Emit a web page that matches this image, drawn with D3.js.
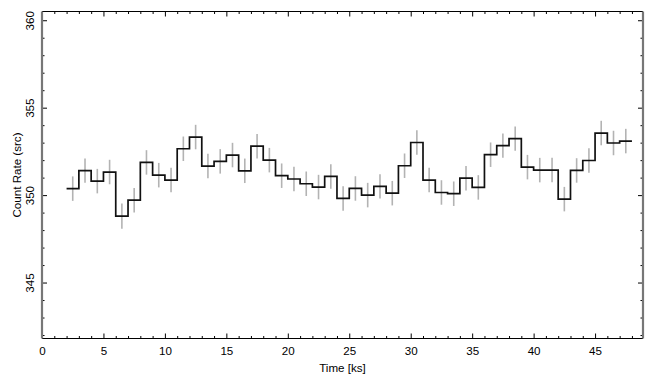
<!DOCTYPE html>
<html><head><meta charset="utf-8">
<script src="https://cdn.jsdelivr.net/npm/d3@7"></script>
<style>body{margin:0;background:#fff}svg{display:block}</style>
</head><body><svg id="c" width="655" height="385"></svg>
<script>
const binStart = [2,3,4,5,6,7,8,9,10,11,12,13,14,15,16,17,18,19,20,21,22,23,24,25,26,27,28,29,30,31,32,33,34,35,36,37,38,39,40,41,42,43,44,45,46,47];
const rate = [350.37,351.40,350.80,351.32,348.80,349.71,351.87,351.14,350.86,352.65,353.32,351.66,351.93,352.29,351.39,352.80,352.00,351.11,350.92,350.65,350.46,351.07,349.81,350.38,350.00,350.50,350.11,351.68,353.01,350.86,350.15,350.08,350.97,350.44,352.31,352.83,353.23,351.60,351.43,351.43,349.77,351.41,351.98,353.55,352.98,353.09];
const rateErr = [0.70,0.70,0.70,0.70,0.72,0.70,0.70,0.70,0.70,0.70,0.70,0.70,0.70,0.70,0.70,0.70,0.70,0.70,0.70,0.70,0.70,0.70,0.70,0.70,0.70,0.70,0.70,0.70,0.70,0.70,0.70,0.70,0.70,0.70,0.70,0.70,0.70,0.70,0.70,0.70,0.70,0.70,0.70,0.70,0.70,0.70];
const binWidth = 1;
const xTicks = [0,5,10,15,20,25,30,35,40,45];
const yTicks = [345,350,355,360];
const xDomain = [0, 48.9];
const yDomain = [341.8, 360.5];

const svg = d3.select('#c');
const L = 42, R = 643, T = 11.5, B = 338.5;
const x = d3.scaleLinear().domain(xDomain).range([L, R]);
const y = d3.scaleLinear().domain(yDomain).range([B, T]);
const font = '"Liberation Sans", Arial, Helvetica, sans-serif';
const fs = 11.6;

const xMinor = d3.range(1, 49).filter(v => v % 5 !== 0);
const yMinor = d3.range(342, 361).filter(v => v % 5 !== 0);

svg.append('g').attr('transform', `translate(0,${B})`)
  .call(d3.axisBottom(x).tickValues(xTicks).tickSize(-5).tickPadding(8).tickFormat(d3.format('d')));
svg.append('g').attr('transform', `translate(0,${B})`)
  .call(d3.axisBottom(x).tickValues(xMinor).tickSize(-2.5).tickFormat(''));
svg.append('g').attr('transform', `translate(0,${T})`)
  .call(d3.axisTop(x).tickValues(xTicks).tickSize(-5).tickFormat(''));
svg.append('g').attr('transform', `translate(0,${T})`)
  .call(d3.axisTop(x).tickValues(xMinor).tickSize(-2.5).tickFormat(''));
const gL = svg.append('g').attr('transform', `translate(${L},0)`)
  .call(d3.axisLeft(y).tickValues(yTicks).tickSize(-5).tickFormat(d3.format('d')));
svg.append('g').attr('transform', `translate(${L},0)`)
  .call(d3.axisLeft(y).tickValues(yMinor).tickSize(-2.5).tickFormat(''));
svg.append('g').attr('transform', `translate(${R},0)`)
  .call(d3.axisRight(y).tickValues(yTicks).tickSize(-5).tickFormat(''));
svg.append('g').attr('transform', `translate(${R},0)`)
  .call(d3.axisRight(y).tickValues(yMinor).tickSize(-2.5).tickFormat(''));

svg.selectAll('.domain').remove();
svg.selectAll('.tick line').attr('stroke', '#000').attr('stroke-width', 1);
svg.selectAll('.tick text').attr('font-family', font).attr('font-size', fs).attr('fill', '#000');

gL.selectAll('.tick text')
  .attr('transform', 'rotate(-90)')
  .attr('x', 0).attr('y', -8).attr('dy', 0)
  .attr('text-anchor', 'middle');

svg.append('line').attr('x1', L).attr('x2', R).attr('y1', T).attr('y2', T).attr('stroke', '#000').attr('stroke-width', 1.2);
svg.append('line').attr('x1', L).attr('x2', R).attr('y1', B).attr('y2', B).attr('stroke', '#000').attr('stroke-width', 1.2);
svg.append('line').attr('x1', L).attr('x2', L).attr('y1', T).attr('y2', B).attr('stroke', '#777').attr('stroke-width', 2.2);
svg.append('line').attr('x1', R).attr('x2', R).attr('y1', T).attr('y2', B).attr('stroke', '#777').attr('stroke-width', 2.2);

const data = binStart.map((s, i) => ({s, v: rate[i], e: rateErr[i]}));
svg.append('g').selectAll('line').data(data).join('line')
  .attr('x1', d => x(d.s + binWidth/2)).attr('x2', d => x(d.s + binWidth/2))
  .attr('y1', d => y(d.v - d.e)).attr('y2', d => y(d.v + d.e))
  .attr('stroke', '#b3b3b3').attr('stroke-width', 1.6);

const pts = [];
data.forEach(d => { pts.push([d.s, d.v]); pts.push([d.s + binWidth, d.v]); });
svg.append('path').datum(pts)
  .attr('d', d3.line().x(d => x(d[0])).y(d => y(d[1])))
  .attr('fill', 'none').attr('stroke', '#111').attr('stroke-width', 1.7);

svg.append('text').attr('x', (L + R) / 2).attr('y', 372).attr('text-anchor', 'middle')
  .attr('font-family', font).attr('font-size', fs).text('Time [ks]');
svg.append('text').attr('transform', `translate(21,${(T + B) / 2}) rotate(-90)`).attr('text-anchor', 'middle')
  .attr('font-family', font).attr('font-size', fs).text('Count Rate (src)');
</script></body></html>
